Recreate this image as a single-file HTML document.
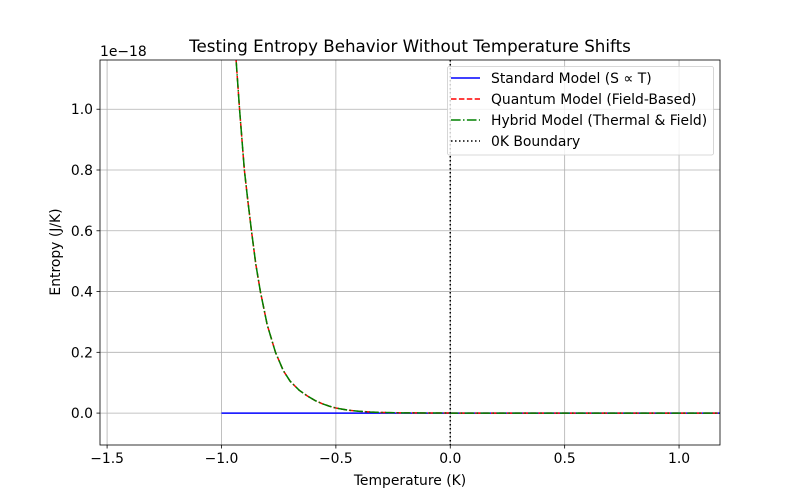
<!DOCTYPE html>
<html><head><meta charset="utf-8"><style>
body{margin:0;background:#fff}
svg{display:block;font-family:"DejaVu Sans","Liberation Sans",sans-serif}
</style></head><body>
<svg id="chart" width="800" height="500"></svg>
<script>
const xTicks=[-1.5,-1.0,-0.5,0.0,0.5,1.0];
const xTickLabels=["−1.5","−1.0","−0.5","0.0","0.5","1.0"];
const yTicks=[0.0,0.2,0.4,0.6,0.8,1.0];
const yTickLabels=["0.0","0.2","0.4","0.6","0.8","1.0"];
const stdT=[-1.0,1.18];
const stdS=[0,0];
const quantT=[-1.0,-0.936,-0.921,-0.900,-0.885,-0.869,-0.850,-0.830,-0.800,-0.764,-0.730,-0.700,-0.660,-0.626,-0.590,-0.560,-0.530,-0.502,-0.450,-0.400,-0.350,-0.300,-0.200,0.0,0.5,1.18];
const quantS=[2.2,1.16,1.0,0.8,0.7,0.6,0.49,0.4,0.29,0.2,0.14,0.105,0.075,0.057,0.041,0.031,0.023,0.017,0.010,0.006,0.0035,0.002,0.0007,0.0001,0,0];
const hybT=quantT.slice();
const hybS=quantS.slice();
const boundaryX=[0.0];

const L=100,R=720,T=60,B=445;
const xmin=-1.531,xmax=1.179,ymin=-0.105,ymax=1.162;
const sx=v=>L+(v-xmin)/(xmax-xmin)*(R-L);
const sy=v=>B-(v-ymin)/(ymax-ymin)*(B-T);
const svg=document.getElementById('chart');
const NS="http://www.w3.org/2000/svg";
function mk(tag,attrs,parent){const e=document.createElementNS(NS,tag);for(const k in attrs)e.setAttribute(k,attrs[k]);(parent||svg).appendChild(e);return e;}

const defs=mk('defs',{});
const cp=mk('clipPath',{id:'plotclip'},defs);
mk('rect',{x:L,y:T,width:R-L,height:B-T},cp);

const grid=mk('g',{});


xTicks.forEach(v=>{mk('line',{x1:sx(v),x2:sx(v),y1:T,y2:B,stroke:'#b0b0b0','stroke-width':0.8},grid);});
yTicks.forEach(v=>{mk('line',{x1:L,x2:R,y1:sy(v),y2:sy(v),stroke:'#b0b0b0','stroke-width':0.8},grid);});

const plot=mk('g',{'clip-path':'url(#plotclip)'});
function series(xs,ys,color,dash,name){
  const p=mk('polyline',{points:xs.map((x,i)=>sx(x)+','+sy(ys[i])).join(' '),fill:'none',stroke:color,'stroke-width':1.5,'stroke-dasharray':dash,'stroke-linejoin':'round'},plot);
  
  
}
series(stdT,stdS,'#0000ff','none','standard-model-line');
series(quantT,quantS,'#ff0000','5.5,2.4','quantum-model-line');
series(hybT,hybS,'#008000','9.6,2.4,1.5,2.4','hybrid-model-line');
boundaryX.forEach(v=>{
  const b=mk('line',{x1:sx(v),x2:sx(v),y1:T,y2:B,stroke:'#000','stroke-width':1.5,'stroke-dasharray':'1.5,2.5'},plot);
  
  
});

const frame=mk('rect',{x:L,y:T,width:R-L,height:B-T,fill:'none',stroke:'#000','stroke-width':0.8});



xTicks.forEach((v,i)=>{
  mk('line',{x1:sx(v),x2:sx(v),y1:B,y2:B+3.5,stroke:'#000','stroke-width':0.8});
  const t=mk('text',{x:sx(v),y:B+18,'font-size':13.9,'text-anchor':'middle'});
  t.textContent=xTickLabels[i];
  
  
});
yTicks.forEach((v,i)=>{
  mk('line',{x1:L-3.5,x2:L,y1:sy(v),y2:sy(v),stroke:'#000','stroke-width':0.8});
  const t=mk('text',{x:L-7,y:sy(v)+5,'font-size':13.9,'text-anchor':'end'});
  t.textContent=yTickLabels[i];
  
  
});
function txt(x,y,s,size,name,extra){const t=mk('text',Object.assign({x:x,y:y,'font-size':size},extra||{}));t.textContent=s;return t;}
txt(100,56,'1e−18',13.9,'y-offset-label');
txt(410,52,'Testing Entropy Behavior Without Temperature Shifts',16.7,'chart-title',{'text-anchor':'middle'});
txt(410,485,'Temperature (K)',13.9,'x-axis-title',{'text-anchor':'middle'});
txt(60,252,'Entropy (J/K)',13.9,'y-axis-title',{'text-anchor':'middle',transform:'rotate(-90 60 252)'});

const lg=mk('g',{});


mk('rect',{x:447.5,y:66.5,width:266,height:88.5,rx:2,fill:'#fff','fill-opacity':0.8,stroke:'#ccc','stroke-width':0.8},lg);
const entries=[['Standard Model (S ∝ T)','#0000ff','none'],['Quantum Model (Field-Based)','#ff0000','5.5,2.4'],['Hybrid Model (Thermal & Field)','#008000','9.6,2.4,1.5,2.4'],['0K Boundary','#000','1.5,2.5']];
entries.forEach((e,i)=>{
  const y=78+i*21;
  const g=mk('g',{},lg);
  
  
  mk('line',{x1:451,x2:480,y1:y,y2:y,stroke:e[1],'stroke-width':1.5,'stroke-dasharray':e[2]},g);
  const t=mk('text',{x:491,y:y+5,'font-size':13.9},g);t.textContent=e[0];
});
</script>
</body></html>
